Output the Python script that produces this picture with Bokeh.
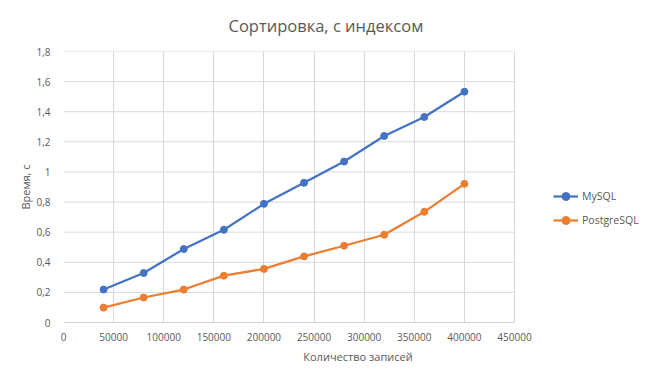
from bokeh.plotting import figure
from bokeh.models import FixedTicker, Legend, LegendItem, NumeralTickFormatter
from bokeh.embed import file_html
from bokeh.resources import INLINE

records = [40000, 80000, 120000, 160000, 200000, 240000, 280000, 320000, 360000, 400000]
mysql = [0.219, 0.329, 0.488, 0.616, 0.788, 0.928, 1.069, 1.239, 1.365, 1.533]
postgres = [0.099, 0.166, 0.219, 0.311, 0.356, 0.439, 0.510, 0.583, 0.735, 0.921]

x_ticks = [0, 50000, 100000, 150000, 200000, 250000, 300000, 350000, 400000, 450000]
y_ticks = [0, 0.2, 0.4, 0.6, 0.8, 1.0, 1.2, 1.4, 1.6, 1.8]
y_tick_labels = ["0", "0,2", "0,4", "0,6", "0,8", "1", "1,2", "1,4", "1,6", "1,8"]

title = "Сортировка, с индексом"
x_label = "Количество записей"
y_label = "Время, с"
series_names = ["MySQL", "PostgreSQL"]
colors = ["#4472C4", "#ED7D31"]

FONT = "Open Sans"
TXT = "#595959"
GRID = "#D9D9D9"

W, H = 652, 382
LEFT, RIGHT_PX = 63, 514  # pixel of x=0 and x=450000 (plot area)
x_min, x_max = x_ticks[0], x_ticks[-1]
# frame spans to the right edge so the legend can live inside it
x_end = x_max * (W - LEFT) / (RIGHT_PX - LEFT)

p = figure(width=W, height=H, output_backend="svg", toolbar_location=None,
           x_range=(x_min, x_end), y_range=(y_ticks[0], y_ticks[-1]),
           min_border_left=LEFT, min_border_right=0, min_border_top=51, min_border_bottom=60)

p.title.text = title
p.title.align = "left"
p.title.offset = 165
p.title.vertical_align = "top"
p.title.text_font = FONT
p.title.text_font_size = "16.5px"
p.title.text_font_style = "normal"
p.title.text_color = TXT
p.title.standoff = 25

p.outline_line_color = None
p.background_fill_color = "white"
p.border_fill_color = "white"

p.xaxis.ticker = FixedTicker(ticks=x_ticks)
p.xaxis.formatter = NumeralTickFormatter(format="0")
p.xaxis.bounds = (x_min, x_max)
p.yaxis.ticker = FixedTicker(ticks=y_ticks)
p.yaxis.major_label_overrides = {t: l for t, l in zip(y_ticks, y_tick_labels)}

for ax in (p.xaxis[0], p.yaxis[0]):
    ax.major_tick_line_color = None
    ax.minor_tick_line_color = None
    ax.major_label_text_font = FONT
    ax.major_label_text_font_size = "10px"
    ax.major_label_text_color = TXT
    ax.axis_label_text_font = FONT
    ax.axis_label_text_font_size = "11px"
    ax.axis_label_text_font_style = "normal"
    ax.axis_label_text_color = TXT

p.xaxis.axis_label = x_label
p.yaxis.axis_label = y_label
p.yaxis.axis_line_color = None
p.xaxis.axis_line_color = "#D0D0D0"
p.xaxis.major_label_standoff = 4
p.yaxis.major_label_standoff = 7
p.xaxis.axis_label_standoff = 5
p.yaxis.axis_label_standoff = 0

p.xgrid.grid_line_color = GRID
p.xgrid.ticker = FixedTicker(ticks=x_ticks)
p.ygrid.visible = False
# horizontal gridlines limited to the plot area (0 .. 450000)
p.segment(x0=x_min, x1=x_max, y0=y_ticks, y1=y_ticks, line_color=GRID, line_width=1)

items = []
for name, ys, c in zip(series_names, [mysql, postgres], colors):
    ln = p.line(records, ys, line_color=c, line_width=2.25)
    sc = p.scatter(records, ys, size=7, fill_color=c, line_color=c)
    items.append(LegendItem(label=name, renderers=[ln, sc]))

legend = Legend(items=items, location=(490, 92), orientation="vertical",
                glyph_width=25, glyph_height=20, spacing=4, padding=0, margin=0,
                label_standoff=4, label_text_font=FONT, label_text_font_size="10.5px",
                label_text_color=TXT, background_fill_alpha=0, border_line_color=None)
p.add_layout(legend, "center")

open("out.html", "w").write(file_html(p, INLINE))
